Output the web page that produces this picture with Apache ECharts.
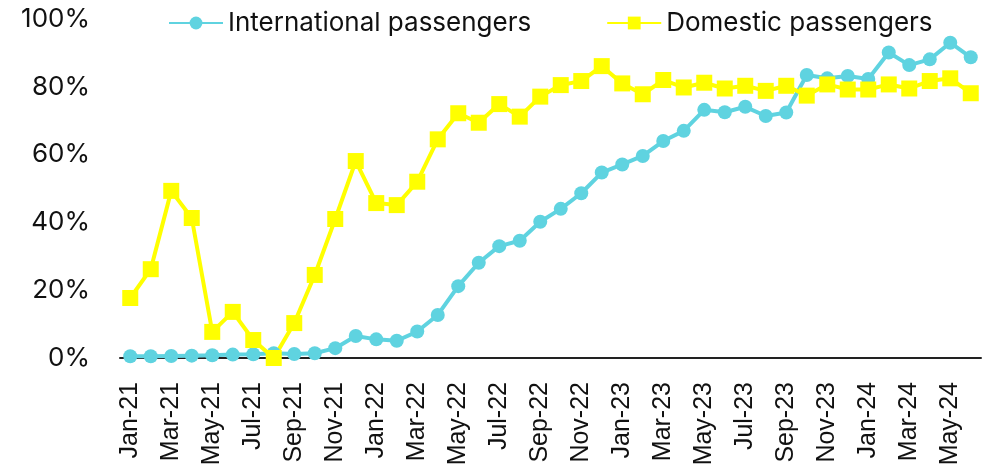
<!DOCTYPE html>
<html>
<head>
<meta charset="utf-8">
<script src="https://cdn.jsdelivr.net/npm/echarts@6/dist/echarts.min.js"></script>
<style>html,body{margin:0;padding:0;background:#fff}#c{width:990px;height:471px}</style>
</head>
<body>
<div id="c"></div>
<script>
const categories = ["Jan-21","Feb-21","Mar-21","Apr-21","May-21","Jun-21","Jul-21","Aug-21","Sep-21","Oct-21","Nov-21","Dec-21",
"Jan-22","Feb-22","Mar-22","Apr-22","May-22","Jun-22","Jul-22","Aug-22","Sep-22","Oct-22","Nov-22","Dec-22",
"Jan-23","Feb-23","Mar-23","Apr-23","May-23","Jun-23","Jul-23","Aug-23","Sep-23","Oct-23","Nov-23","Dec-23",
"Jan-24","Feb-24","Mar-24","Apr-24","May-24","Jun-24"];
const international = [0.5,0.5,0.6,0.7,0.8,1.0,1.1,1.4,1.2,1.4,2.9,6.5,
5.5,5.1,7.8,12.7,21.2,28.1,33.0,34.6,40.2,44.0,48.6,54.7,
57.1,59.6,64.0,67.0,73.2,72.5,74.1,71.4,72.4,83.5,82.5,83.2,
82.3,90.1,86.4,88.1,93.0,88.7];
const domestic = [17.7,26.2,49.3,41.3,7.7,13.6,5.3,0.0,10.3,24.5,41.0,58.1,
45.7,45.1,52.0,64.5,72.2,69.4,74.9,71.2,77.1,80.5,81.7,86.1,
81.0,77.8,82.0,79.8,81.2,79.5,80.3,78.8,80.3,77.4,80.7,79.2,
79.2,80.7,79.5,81.7,82.5,78.1];
const yTicks = [0,20,40,60,80,100];

const chart = echarts.init(document.getElementById('c'), null, {renderer:'canvas'});
chart.setOption({
  animation:false,
  backgroundColor:'#fff',
  grid:{left:120,right:9,top:19,bottom:113,containLabel:false},
  legend:{
    top:5,left:163,itemGap:75,itemWidth:54,itemHeight:16,
    textStyle:{fontFamily:'Inter',fontSize:26,color:'#111',padding:[0,0,0,0]},
    data:['International passengers','Domestic passengers']
  },
  xAxis:{
    type:'category',data:categories,boundaryGap:true,
    axisLine:{lineStyle:{color:'#222',width:2}},
    axisTick:{show:false},
    axisLabel:{interval:1,rotate:90,margin:24,fontFamily:'Liberation Sans',fontSize:25,color:'#111'}
  },
  yAxis:{
    type:'value',min:yTicks[0],max:yTicks[yTicks.length-1],interval:20,
    axisLine:{show:false},axisTick:{show:false},splitLine:{show:false},
    axisLabel:{formatter:v=>v+'%',fontFamily:'Inter',fontSize:26,color:'#111',margin:30}
  },
  series:[
    {name:'International passengers',type:'line',data:international,showAllSymbol:true,
     symbol:'circle',symbolSize:14,color:'#5FD3E0',
     lineStyle:{width:4,color:'#5FD3E0'},itemStyle:{color:'#5FD3E0'}},
    {name:'Domestic passengers',type:'line',data:domestic,showAllSymbol:true,
     symbol:'rect',symbolSize:16,color:'#FFFF00',
     lineStyle:{width:4,color:'#FFFF00'},itemStyle:{color:'#FFFF00'}}
  ]
});
</script>
</body>
</html>
